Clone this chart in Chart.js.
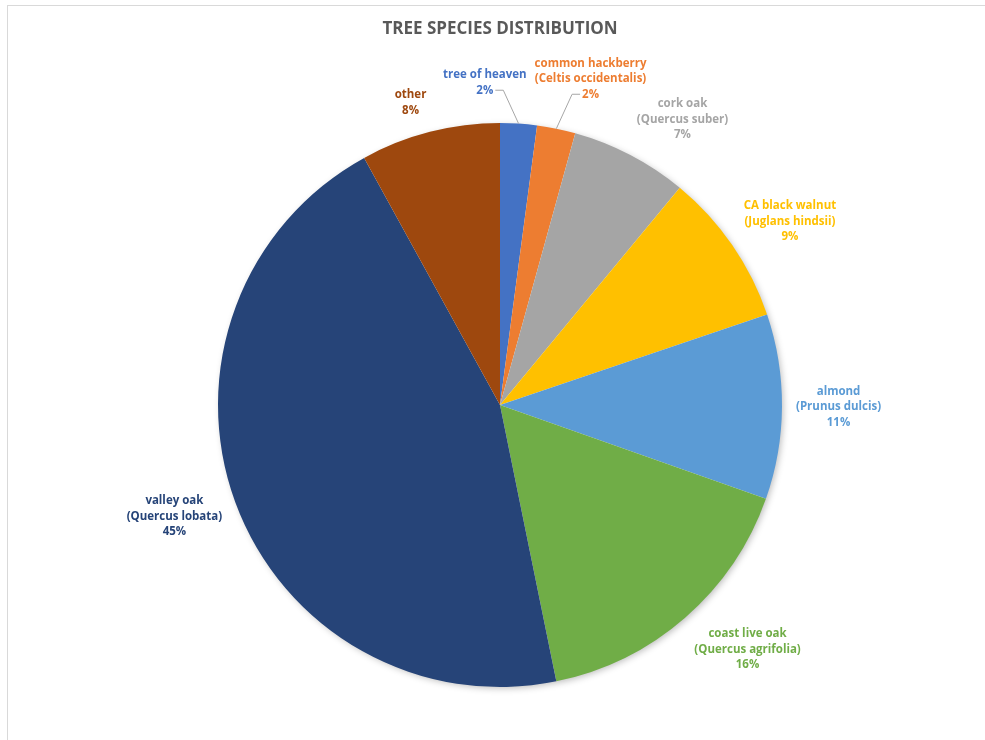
<!DOCTYPE html>
<html>
<head>
<meta charset="utf-8">
<script src="https://cdn.jsdelivr.net/npm/chart.js@4.4.1/dist/chart.umd.min.js"></script>
<style>
  html, body { margin: 0; padding: 0; background: #fff; }
  #wrap { width: 985px; height: 740px; }
</style>
</head>
<body>
<div id="wrap"><canvas id="pieChart" width="985" height="740"></canvas></div>
<script>
// Tree species, clockwise from 12 o'clock
const species = [
    ['tree of heaven'],
    ['common hackberry', '(Celtis occidentalis)'],
    ['cork oak', '(Quercus suber)'],
    ['CA black walnut', '(Juglans hindsii)'],
    ['almond', '(Prunus dulcis)'],
    ['coast live oak', '(Quercus agrifolia)'],
    ['valley oak', '(Quercus lobata)'],
    ['other']
];
const shares = [2.1, 2.2, 6.7, 8.8, 10.6, 16.4, 45.2, 8.0];
const sliceColors = ['#4472C4', '#ED7D31', '#A5A5A5', '#FFC000', '#5B9BD5', '#70AD47', '#264478', '#9E480E'];

const labelFont = 'bold 11.5px "Open Sans"';
const lineHeight = 15.5;

// light frame around the chart area
const framePlugin = {
    id: 'frame',
    beforeDraw(chart) {
        const ctx = chart.ctx;
        ctx.save();
        ctx.strokeStyle = '#d9d9d9';
        ctx.lineWidth = 1;
        ctx.strokeRect(7.5, 5.5, 1100, 900);
        ctx.restore();
    }
};

// soft shadow under the whole pie
const shadowPlugin = {
    id: 'pieShadow',
    beforeDatasetsDraw(chart) {
        const arc = chart.getDatasetMeta(0).data[0];
        if (!arc) return;
        const ctx = chart.ctx;
        ctx.save();
        ctx.shadowColor = 'rgba(0,0,0,0.28)';
        ctx.shadowBlur = 7;
        ctx.shadowOffsetX = 2;
        ctx.shadowOffsetY = 2;
        ctx.fillStyle = '#fff';
        ctx.beginPath();
        ctx.arc(arc.x, arc.y, arc.outerRadius - 1, 0, Math.PI * 2);
        ctx.fill();
        ctx.restore();
    }
};

// outside labels: box corner sits on the mid-angle ray; colliding
// small slices get spread apart and get leader lines
const labelPlugin = {
    id: 'sliceLabels',
    afterDatasetsDraw(chart) {
        const ctx = chart.ctx;
        const meta = chart.getDatasetMeta(0);
        const total = shares.reduce((a, b) => a + b, 0);
        ctx.save();
        ctx.font = labelFont;

        const boxes = meta.data.map((arc, i) => {
            const pct = Math.round(shares[i] / total * 100) + '%';
            const lines = [...species[i], pct];
            const w = Math.max(...lines.map(l => ctx.measureText(l).width));
            const h = lines.length * lineHeight;
            const mid = (arc.startAngle + arc.endAngle) / 2;
            const c = Math.cos(mid), s = Math.sin(mid);
            // centre-based position (used for collision handling)
            const ext = Math.abs(c) * w / 2 + Math.abs(s) * h / 2;
            const d = arc.outerRadius + 17 + ext;
            // corner-anchored position
            const R = arc.outerRadius + 14;
            const fy = Math.sign(s) * Math.min(1, Math.abs(s) * 1.2);
            return {
                lines, w, h, pct,
                cx: arc.x + c * d, cy: arc.y + s * d,
                x: arc.x + c * R + Math.sign(c) * w / 2,
                y: arc.y + s * R + fy * h / 2,
                ex: arc.x + c * arc.outerRadius, ey: arc.y + s * arc.outerRadius,
                moved: false
            };
        });

        for (let i = 0; i < boxes.length - 1; i++) {
            const a = boxes[i], b = boxes[i + 1];
            if (a.moved || b.moved) continue;
            const ox = (a.w + b.w) / 2 + 8 - Math.abs(b.cx - a.cx);
            const oy = (a.h + b.h) / 2 - Math.abs(b.cy - a.cy);
            if (ox > 0 && oy > 0) {
                const dir = b.cx >= a.cx ? 1 : -1;
                a.x = a.cx - dir * ox * 0.6;
                b.x = b.cx + dir * ox * 0.4;
                a.y = a.cy - 6;
                b.y = b.cy;
                a.moved = b.moved = true;
            }
        }

        ctx.textAlign = 'center';
        ctx.textBaseline = 'middle';
        boxes.forEach((box, i) => {
            const top = box.y - box.h / 2;
            ctx.fillStyle = sliceColors[i];
            box.lines.forEach((line, j) => {
                ctx.fillText(line, box.x, top + lineHeight * (j + 0.5));
            });
            if (box.moved) {
                const ly = top + lineHeight * (box.lines.length - 0.5);
                const pw = ctx.measureText(box.pct).width;
                const side = box.ex > box.x ? 1 : -1;
                const sx = box.x + side * (pw / 2 + 2);
                ctx.strokeStyle = '#a6a6a6';
                ctx.lineWidth = 1;
                ctx.beginPath();
                ctx.moveTo(sx, ly);
                ctx.lineTo(sx + side * 8, ly);
                ctx.lineTo(box.ex, box.ey);
                ctx.stroke();
            }
        });
        ctx.restore();
    }
};

new Chart(document.getElementById('pieChart'), {
    type: 'pie',
    data: {
        labels: species.map(s => s.join(' ')),
        datasets: [{
            data: shares,
            backgroundColor: sliceColors,
            borderWidth: 0
        }]
    },
    options: {
        responsive: false,
        animation: false,
        layout: {
            padding: { top: 0, left: 218, right: 203, bottom: 53 }
        },
        plugins: {
            legend: { display: false },
            tooltip: { enabled: false },
            title: {
                display: true,
                text: 'TREE SPECIES DISTRIBUTION',
                color: '#595959',
                font: { family: '"Open Sans"', size: 17, weight: 'bold', lineHeight: 1.2 },
                padding: { top: 19, bottom: 83.6 }
            }
        }
    },
    plugins: [framePlugin, shadowPlugin, labelPlugin]
});
</script>
</body>
</html>
